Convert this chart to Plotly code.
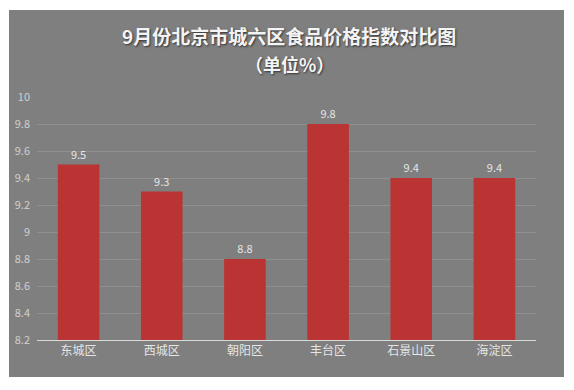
import plotly.graph_objects as go

categories = ["东城区", "西城区", "朝阳区", "丰台区", "石景山区", "海淀区"]
values = [9.5, 9.3, 8.8, 9.8, 9.4, 9.4]
y_tickvals = [8.2, 8.4, 8.6, 8.8, 9.0, 9.2, 9.4, 9.6, 9.8, 10.0]
y_ticktext = ["8.2", "8.4", "8.6", "8.8", "9", "9.2", "9.4", "9.6", "9.8", "10"]
title_line1 = "9月份北京市城六区食品价格指数对比图"
title_line2 = "（单位%）"

W, H = 574, 390
L, R, T, B = 37, 38, 97, 50
pw, ph = W - L - R, H - T - B

def px_x(x):
    return (x - L) / pw

def px_y(y):
    return (H - B - y) / ph

font_family = "Noto Sans CJK SC, Noto Sans, sans-serif"
title_font = dict(color="#f4f4f4", family=font_family, shadow="1px 1px 2px #333333")

fig = go.Figure()
fig.add_trace(go.Bar(
    x=categories,
    y=[v - 8.2 for v in values],
    base=8.2,
    text=[str(v) for v in values],
    textposition="outside",
    textfont=dict(color="#e6e6e6", size=11, family=font_family),
    cliponaxis=False,
    marker=dict(
        color="#bb3434",
        line=dict(width=0),
    ),
    hoverinfo="skip",
))

fig.update_layout(
    width=W, height=H,
    margin=dict(l=L, r=R, t=T, b=B),
    paper_bgcolor="white",
    plot_bgcolor="rgba(0,0,0,0)",
    bargap=0.5,
    showlegend=False,
    font=dict(family=font_family, color="#d9d9d9"),
    shapes=[dict(
        type="rect", xref="paper", yref="paper",
        x0=px_x(9), x1=px_x(564), y0=px_y(377), y1=px_y(10),
        fillcolor="#7f7f7f", line=dict(width=0), layer="below",
    )],
    annotations=[
        dict(text="<b>" + title_line1 + "</b>", xref="paper", yref="paper",
             x=px_x(289), y=px_y(36), xanchor="center", yanchor="middle",
             showarrow=False, borderpad=0,
             font=dict(size=19, **title_font)),
        dict(text="<b>" + title_line2 + "</b>", xref="paper", yref="paper",
             x=px_x(289), y=px_y(64), xanchor="center", yanchor="middle",
             showarrow=False, borderpad=0,
             font=dict(size=18, **title_font)),
    ],
)

fig.update_xaxes(
    showline=True, linecolor="#d9d9d9", linewidth=1,
    showgrid=False, ticks="",
    tickfont=dict(size=12, color="#e6e6e6", family=font_family),
    fixedrange=True,
)
fig.update_yaxes(
    range=[8.2, 10.0],
    tickvals=y_tickvals, ticktext=y_ticktext,
    showgrid=True, gridcolor="#8f8f8f", gridwidth=1,
    zeroline=False, showline=False, ticks="",
    ticklabelstandoff=6,
    tickfont=dict(size=11, color="#d0d0d0", family=font_family),
    fixedrange=True,
)

fig.write_html(
    "out.html",
    config={"displayModeBar": False},
    post_script="document.body.style.margin='0';document.body.style.overflow='hidden';",
)
